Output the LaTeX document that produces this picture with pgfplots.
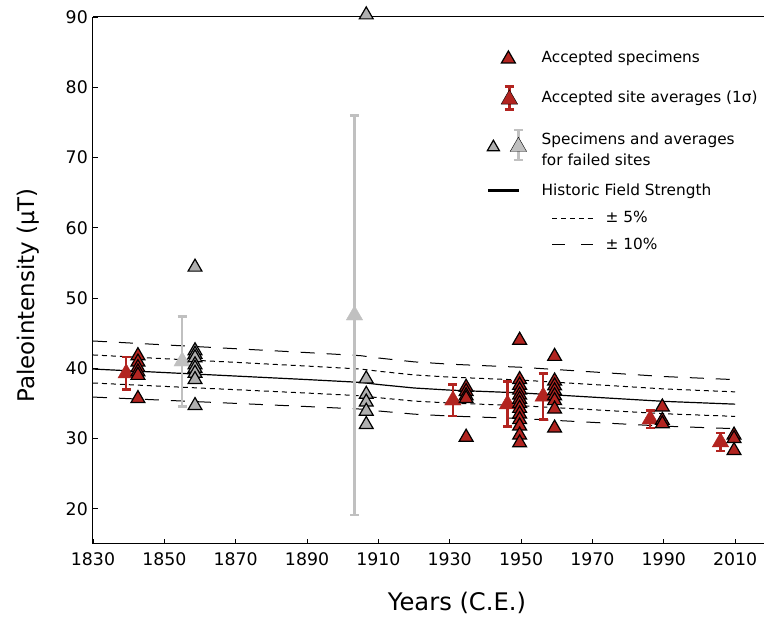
\documentclass[border=0pt]{standalone}
\usepackage{fontspec}
\setmainfont{DejaVu Sans}
\usepackage{pgfplots}
\pgfplotsset{compat=1.18}
\definecolor{accred}{RGB}{178,36,32}
\definecolor{failgray}{RGB}{175,175,175}
\definecolor{avggray}{RGB}{192,192,192}
\begin{document}
\begin{tikzpicture}
\begin{axis}[
  scale only axis, width=671bp, height=527bp,
  xmin=1830, xmax=2018.1, ymin=15, ymax=90,
  axis x line*=box, axis y line*=left,
  axis line style={-, line width=1bp},
  xtick pos=bottom, ytick pos=left,
  tick align=inside, major tick length=5bp,
  tick style={line width=0.8bp, black},
  xtick={1830,1850,...,2010}, ytick={20,30,...,90},
  /pgf/number format/assume math mode=true,
  /pgf/number format/1000 sep={},
  xticklabel style={font=\fontsize{17.4}{20}\selectfont, inner sep=0pt, anchor=north, yshift=-8bp},
  yticklabel style={font=\fontsize{17.4}{20}\selectfont, inner sep=0pt, anchor=east, xshift=-5bp},
  xlabel={Years (C.E.)},
  ylabel={Paleointensity (μT)},
  every axis x label/.style={at={([yshift=-67bp]axis description cs:0.5425,0)}, anchor=base, font=\fontsize{24.3}{27}\selectfont},
  every axis y label/.style={at={([xshift=-58bp]axis description cs:0,0.4715)}, anchor=base, rotate=90, font=\fontsize{23}{26}\selectfont},
  clip=false,
  legend cell align=left,
  legend style={at={(axis description cs:0.58271,0.962)}, anchor=north west, draw=none, fill=none,
    inner sep=0pt, row sep=0pt, column sep=11bp, font=\fontsize{15.4}{21}\selectfont,
    nodes={inner sep=0pt}},
]
% historic field strength and envelopes
\addplot[black, line width=1.2bp, forget plot] coordinates {
(1830,39.9) (1850,39.4) (1870,38.9) (1890,38.4) (1905,38.0) (1910,37.7) (1920,37.2) (1930,36.9) (1950,36.5) (1960,36.2) (1970,35.9) (1990,35.3) (2010,34.9)};
\addplot[black, line width=1bp, dash pattern=on 5bp off 4bp, forget plot] coordinates {
(1830,41.90) (1850,41.37) (1870,40.85) (1890,40.32) (1905,39.90) (1910,39.59) (1920,39.06) (1930,38.75) (1950,38.33) (1960,38.01) (1970,37.70) (1990,37.07) (2010,36.65)};
\addplot[black, line width=1bp, dash pattern=on 5bp off 4bp, forget plot] coordinates {
(1830,37.91) (1850,37.43) (1870,36.96) (1890,36.48) (1905,36.10) (1910,35.82) (1920,35.34) (1930,35.06) (1950,34.68) (1960,34.39) (1970,34.11) (1990,33.54) (2010,33.16)};
\addplot[black, line width=1bp, dash pattern=on 14bp off 12bp, forget plot] coordinates {
(1830,43.89) (1850,43.34) (1870,42.79) (1890,42.24) (1905,41.80) (1910,41.47) (1920,40.92) (1930,40.59) (1950,40.15) (1960,39.82) (1970,39.49) (1990,38.83) (2010,38.39)};
\addplot[black, line width=1bp, dash pattern=on 14bp off 12bp, forget plot] coordinates {
(1830,35.91) (1850,35.46) (1870,35.01) (1890,34.56) (1905,34.20) (1910,33.93) (1920,33.48) (1930,33.21) (1950,32.85) (1960,32.58) (1970,32.31) (1990,31.77) (2010,31.41)};
% failed site averages
\addplot[only marks, color=avggray, mark=triangle*, mark size=9.5bp, mark options={fill=avggray, draw=none}, forget plot,
  error bars/.cd, y dir=both, y explicit, error mark=-,
  error bar style={line width=2.5bp, avggray},
  error mark options={rotate=90, line width=2.5bp, avggray, mark size=4.5bp}]
coordinates {(1855.0,41.0) +- (0,6.4) (1903.3,47.55) +- (0,28.45)};
% accepted site averages
\addplot[only marks, color=accred, mark=triangle*, mark size=9.5bp, mark options={fill=accred, draw=none}, forget plot,
  error bars/.cd, y dir=both, y explicit, error mark=-,
  error bar style={line width=2.5bp, accred},
  error mark options={rotate=90, line width=2.5bp, accred, mark size=4.5bp}]
coordinates {(1839.3,39.3) +- (0,2.3) (1930.9,35.45) +- (0,2.25) (1946.2,34.9) +- (0,3.2)
 (1956.2,36.0) +- (0,3.25) (1986.2,32.75) +- (0,1.25) (2005.9,29.5) +- (0,1.3)};
% failed specimens
\addplot[only marks, mark=triangle*, mark size=8bp, mark options={fill=failgray, draw=black, line width=1.2bp}, forget plot]
coordinates {(1858.6,54.4) (1858.6,42.5) (1858.6,42.0) (1858.6,41.5) (1858.6,40.5) (1858.6,40.0) (1858.6,39.3) (1858.6,38.4) (1858.6,34.7)
 (1906.6,90.3) (1906.6,38.5) (1906.6,36.3) (1906.6,35.2) (1906.6,33.9) (1906.6,32.0)};
% accepted specimens
\addplot[only marks, mark=triangle*, mark size=8bp, mark options={fill=accred, draw=black, line width=1.2bp}, forget plot]
coordinates {(1842.6,41.8) (1842.6,40.9) (1842.6,40.1) (1842.6,39.5) (1842.6,39.0) (1842.6,35.7)
 (1934.6,37.3) (1934.6,36.7) (1934.6,36.1) (1934.6,35.7) (1934.6,30.2)
 (1949.6,44.0) (1949.6,38.4) (1949.6,37.6) (1949.6,36.9) (1949.6,36.2) (1949.6,35.6) (1949.6,35.0) (1949.6,34.3) (1949.6,33.5) (1949.6,32.7) (1949.6,31.8) (1949.6,30.5) (1949.6,29.4)
 (1959.4,41.7) (1959.4,38.2) (1959.4,37.5) (1959.4,36.8) (1959.4,36.1) (1959.4,35.4) (1959.4,34.2) (1959.4,31.5)
 (1989.6,34.5) (1989.6,32.6) (1989.6,32.1)
 (2009.7,30.5) (2009.7,30.0) (2009.7,28.3)};
% legend
\addlegendimage{legend image code/.code={
  \path (0bp,-20bp) (46bp,20bp);
  \path plot[mark=triangle*, mark size=8bp, mark options={fill=accred, draw=black, line width=1.2bp}] coordinates {(24bp,-1.5bp)};}}
\addlegendentry{Accepted specimens}
\addlegendimage{legend image code/.code={
  \path (0bp,-20bp) (46bp,20bp);
  \draw[accred, line width=2.5bp] (25bp,-11.5bp) -- (25bp,11.5bp);
  \draw[accred, line width=2.5bp] (20.5bp,11.5bp) -- (29.5bp,11.5bp);
  \draw[accred, line width=2.5bp] (20.5bp,-11.5bp) -- (29.5bp,-11.5bp);
  \path plot[mark=triangle*, mark size=9.5bp, mark options={fill=accred, draw=none}] coordinates {(25bp,-1.5bp)};}}
\addlegendentry{Accepted site averages (1σ)}
\addlegendimage{legend image code/.code={
  \path (0bp,-28.5bp) (46bp,28.5bp);
  \path plot[mark=triangle*, mark size=7bp, mark options={fill=failgray, draw=black, line width=1.2bp}] coordinates {(9bp,-0.5bp)};
  \draw[avggray, line width=2.5bp] (34bp,-13.5bp) -- (34bp,16.5bp);
  \draw[avggray, line width=2.5bp] (29.5bp,16.5bp) -- (38.5bp,16.5bp);
  \draw[avggray, line width=2.5bp] (29.5bp,-13.5bp) -- (38.5bp,-13.5bp);
  \path plot[mark=triangle*, mark size=9.5bp, mark options={fill=avggray, draw=none}] coordinates {(34bp,0bp)};}}
\addlegendentry{\raisebox{7.5bp}{\begin{tabular}[c]{@{}l@{}}Specimens and averages\\for failed sites\end{tabular}}}
\addlegendimage{legend image code/.code={
  \path (0bp,-15bp) (46bp,15bp);
  \draw[black, line width=2.5bp] (4bp,0bp) -- (35bp,0bp);}}
\addlegendentry{Historic Field Strength}
\addlegendimage{legend image code/.code={
  \path (0bp,-12bp) (46bp,12bp);
  \draw[overlay, black, line width=1bp, dash pattern=on 5bp off 3.8bp] (68bp,0bp) -- (109bp,0bp);}}
\addlegendentry{\hspace*{64bp}± 5\%}
\addlegendimage{legend image code/.code={
  \path (0bp,-14bp) (46bp,14bp);
  \draw[overlay, black, line width=1bp, dash pattern=on 13bp off 16bp] (68bp,0bp) -- (109bp,0bp);}}
\addlegendentry{\hspace*{64bp}± 10\%}
\end{axis}
\pgfresetboundingbox
\path ([xshift=-93bp,yshift=-75bp]current axis.south west) rectangle ([yshift=17bp]current axis.north east);
\end{tikzpicture}
\end{document}
